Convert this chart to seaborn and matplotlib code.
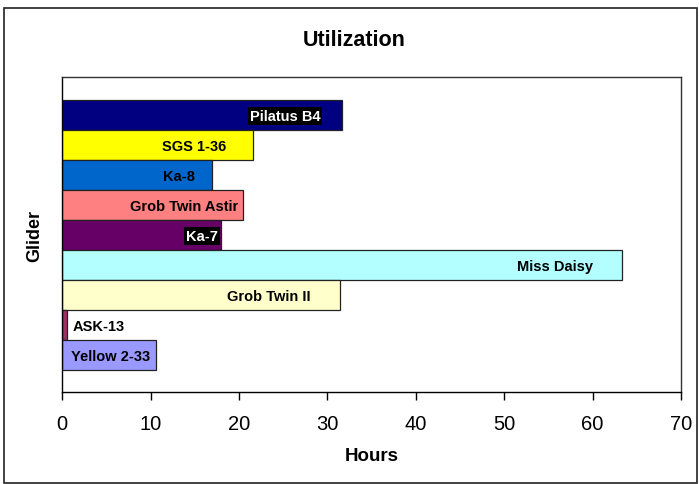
import matplotlib
matplotlib.use("Agg")
import matplotlib.pyplot as plt
import seaborn as sns
import pandas as pd
from matplotlib.patches import Rectangle

# gliders, top to bottom
gliders = ["Pilatus B4", "SGS 1-36", "Ka-8", "Grob Twin Astir", "Ka-7",
           "Miss Daisy", "Grob Twin II", "ASK-13", "Yellow 2-33"]
hours = [31.6, 21.6, 16.9, 20.4, 17.95, 63.3, 31.4, 0.5, 10.6]
colors = ["#000080", "#FFFF00", "#0066CC", "#FF8080", "#660066",
          "#B3FFFF", "#FFFFCC", "#993366", "#9999FF"]
# how far the label's right edge sits inside the bar end (hours)
label_inset = [2.4, 3.0, 1.9, 0.5, 0.35, 3.25, 3.25, None, 0.65]
dark_labels = {"Pilatus B4", "Ka-7"}

df = pd.DataFrame({"Glider": gliders, "Hours": hours})

sns.set_style("white")
plt.rcParams["font.family"] = ["Liberation Sans", "DejaVu Sans"]
plt.rcParams["text.color"] = "black"
plt.rcParams["axes.labelcolor"] = "black"
plt.rcParams["xtick.color"] = "black"

fig = plt.figure(figsize=(6.99, 4.85), dpi=100)
ax = fig.add_axes([62.3 / 699, 1 - 393 / 485, (681 - 62.3) / 699, (393 - 78) / 485])

sns.barplot(data=df, y="Glider", x="Hours", hue="Glider", palette=colors,
            orient="h", width=1.0, legend=False, edgecolor="#222222",
            linewidth=0.9, saturation=1, ax=ax)

ax.set_xlim(0, 70)
ax.set_ylim(len(gliders) - 0.5 + 0.75, -0.5 - 0.75)
ax.set_xticks(range(0, 71, 10))
ax.set_yticks([])
ax.tick_params(axis="x", direction="out", length=6, width=1, color="black",
               labelcolor="black", labelsize=14.5, pad=10, bottom=True)
for sp in ax.spines.values():
    sp.set_color("#333333")
    sp.set_linewidth(1)
ax.spines["bottom"].set_color("black")
ax.spines["left"].set_color("black")

ax.set_xlabel("Hours", fontsize=13.5, fontweight="bold", labelpad=10)
ax.set_ylabel("Glider", fontsize=13, fontweight="bold", labelpad=14)

for i, (name, val, inset) in enumerate(zip(gliders, hours, label_inset)):
    if inset is None:
        ax.text(val + 0.65, i + 0.05, name, ha="left", va="center",
                fontsize=10.5, fontweight="bold", color="black")
    elif name in dark_labels:
        ax.text(val - inset, i + 0.05, name, ha="right", va="center",
                fontsize=10.5, fontweight="bold", color="white",
                bbox=dict(facecolor="black", edgecolor="none", pad=1.5))
    else:
        ax.text(val - inset, i + 0.05, name, ha="right", va="center",
                fontsize=10.5, fontweight="bold", color="black")

fig.text(354 / 699, 1 - 41 / 485, "Utilization", ha="center", va="center",
         fontsize=15.5, fontweight="bold")

fig.patches.append(Rectangle((3.5 / 699, 1 - 484 / 485), 693.5 / 699, 475 / 485,
                             transform=fig.transFigure, fill=False,
                             edgecolor="#222222", linewidth=1.2))

fig.savefig("out.png", dpi=100)
